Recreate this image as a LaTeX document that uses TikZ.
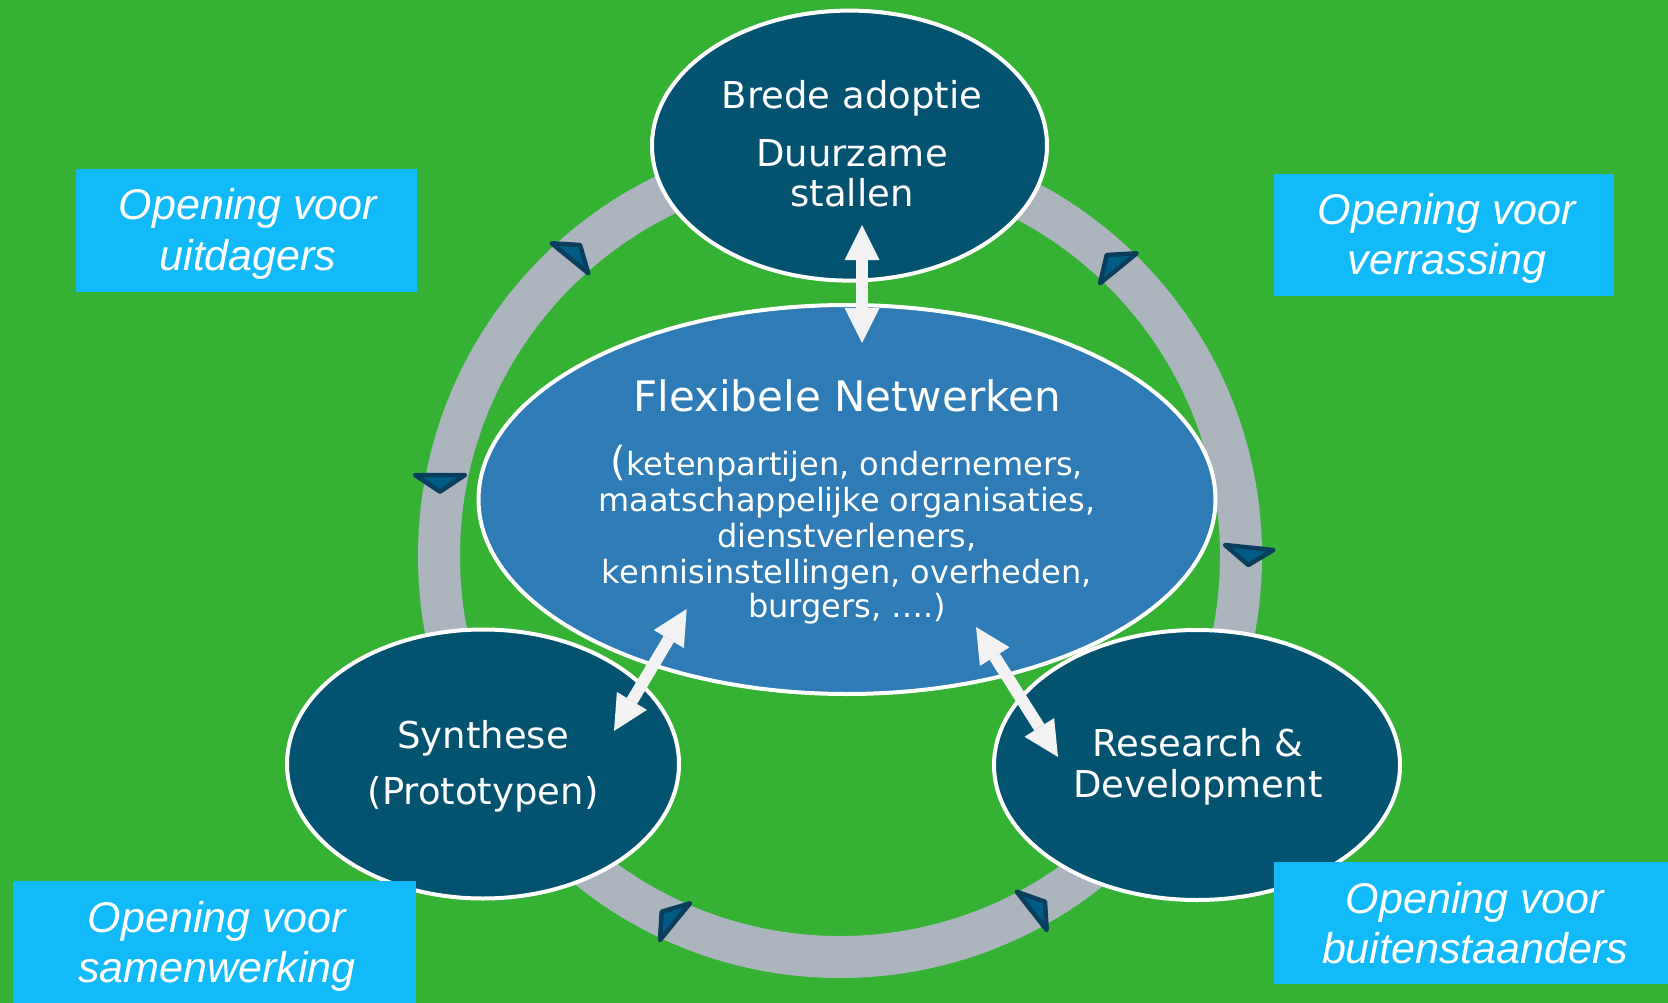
\documentclass[tikz,border=0pt]{standalone}
\usepackage{fontspec}
\setmainfont{DejaVu Sans}
\newfontfamily\boxfont{Liberation Sans}
\usetikzlibrary{arrows.meta,shapes.geometric}
\definecolor{bggreen}{RGB}{53,177,52}
\definecolor{darkell}{RGB}{2,82,112}
\definecolor{midell}{RGB}{46,123,182}
\definecolor{boxblue}{RGB}{18,186,250}
\definecolor{ringgray}{RGB}{172,180,190}
\definecolor{arrowwhite}{RGB}{242,242,242}
\definecolor{markdark}{RGB}{10,62,92}
\definecolor{markfill}{RGB}{0,92,132}
\begin{document}
\begin{tikzpicture}[x=1pt,y=-1pt,
  ell/.style={ellipse, draw=white, line width=4pt, inner sep=0pt},
  lbl/.style={text=white, anchor=base, inner sep=0pt, font=\fontsize{37}{41}\selectfont},
  smalllbl/.style={text=white, anchor=base, inner sep=0pt, font=\fontsize{32}{35}\selectfont},
  biglbl/.style={text=white, anchor=base, inner sep=0pt, font=\fontsize{42}{48}\selectfont},
  boxtxt/.style={text=white, anchor=base, inner sep=0pt, font=\boxfont\itshape\fontsize{43}{50}\selectfont},
  openbox/.style={rectangle, fill=boxblue, draw=none, inner sep=0pt, anchor=north west},
  biarrow/.style={draw=arrowwhite, line width=12pt,
     {Triangle[length=35pt 0 0,width=35pt 0 0,line width=0pt 0 0]}-{Triangle[length=35pt 0 0,width=35pt 0 0,line width=0pt 0 0]}},
  marker/.style={draw=markdark, fill=markfill, line width=4.5pt, line join=round},
]
\useasboundingbox (0,0) rectangle (1668,1003);
\fill[bggreen] (0,0) rectangle (1668,1003);
% ring
\draw[ringgray, line width=42pt] (840,556) circle[radius=401pt];
% outer ellipses
\node[ell, fill=darkell, minimum width=392pt, minimum height=269pt] (synth) at (483,764) {};
\node[ell, fill=darkell, minimum width=406pt, minimum height=270pt] (rd) at (1197,765) {};
\node[ell, fill=midell, minimum width=737pt, minimum height=389pt] (flex) at (847,499.5) {};
\node[ell, fill=darkell, minimum width=395pt, minimum height=270pt] (brede) at (849.5,145.6) {};
% markers on ring
\draw[marker] (551.7,243.3) -- (580,245) -- (588.3,273.3) -- cycle;
\draw[marker] (415,475) -- (465,475) -- (440,491.7) -- cycle;
\draw[marker] (1106.7,255) -- (1136.7,253.3) -- (1100,283.3) -- cycle;
\draw[marker] (1225,545) -- (1273.3,550) -- (1248.3,565) -- cycle;
\draw[marker] (690,903.3) -- (661.7,911.7) -- (660,940) -- cycle;
\draw[marker] (1016.7,891.7) -- (1045,901.7) -- (1046.7,930) -- cycle;
% texts
\node[lbl] (t1) at (852,109) {Brede adoptie};
\node[lbl] (t2) at (852,167) {Duurzame};
\node[lbl] (t3) at (852,207) {stallen};
\node[biglbl] (f1) at (847,411) {Flexibele Netwerken};
\node[smalllbl] (f2) at (847,475) {{\fontsize{40}{40}\selectfont(}ketenpartijen, ondernemers,};
\node[smalllbl] (f3) at (847,511.5) {maatschappelijke organisaties,};
\node[smalllbl] (f4) at (847,547) {dienstverleners,};
\node[smalllbl] (f5) at (847,583) {kennisinstellingen, overheden,};
\node[smalllbl] (f6) at (847,617) {burgers, \ldots.)};
\node[lbl] (s1) at (483,748) {Synthese};
\node[lbl] (s2) at (483,804) {(Prototypen)};
\node[lbl] (r1) at (1198,756) {Research \&};
\node[lbl] (r2) at (1198,797) {Development};
% double arrows
\coordinate (a1) at (862,225);
\coordinate (a2) at (862,343);
\coordinate (b1) at (686.7,609);
\coordinate (b2) at (614,731);
\coordinate (c1) at (976,627);
\coordinate (c2) at (1058,757);
\draw[biarrow] (a1) -- (a2);
\draw[biarrow] (b1) -- (b2);
\draw[biarrow] (c1) -- (c2);
% boxes
\node[openbox, minimum width=341pt, minimum height=123pt] (bx1) at (76,169) {};
\node[openbox, minimum width=340pt, minimum height=122pt] (bx2) at (1273.4,173.4) {};
\node[openbox, minimum width=403pt, minimum height=122.2pt] (bx3) at (12.8,880.8) {};
\node[openbox, minimum width=394.6pt, minimum height=122.3pt] (bx4) at (1273.4,861.7) {};
\node[boxtxt] (o1a) at (248,220) {Opening voor};
\node[boxtxt] (o1b) at (248,270) {uitdagers};
\node[boxtxt] (o2a) at (1447,224.4) {Opening voor};
\node[boxtxt] (o2b) at (1447,274.4) {verrassing};
\node[boxtxt] (o3a) at (217,932) {Opening voor};
\node[boxtxt] (o3b) at (217,982) {samenwerking};
\node[boxtxt] (o4a) at (1475,913) {Opening voor};
\node[boxtxt] (o4b) at (1475,963) {buitenstaanders};
\end{tikzpicture}
\end{document}
